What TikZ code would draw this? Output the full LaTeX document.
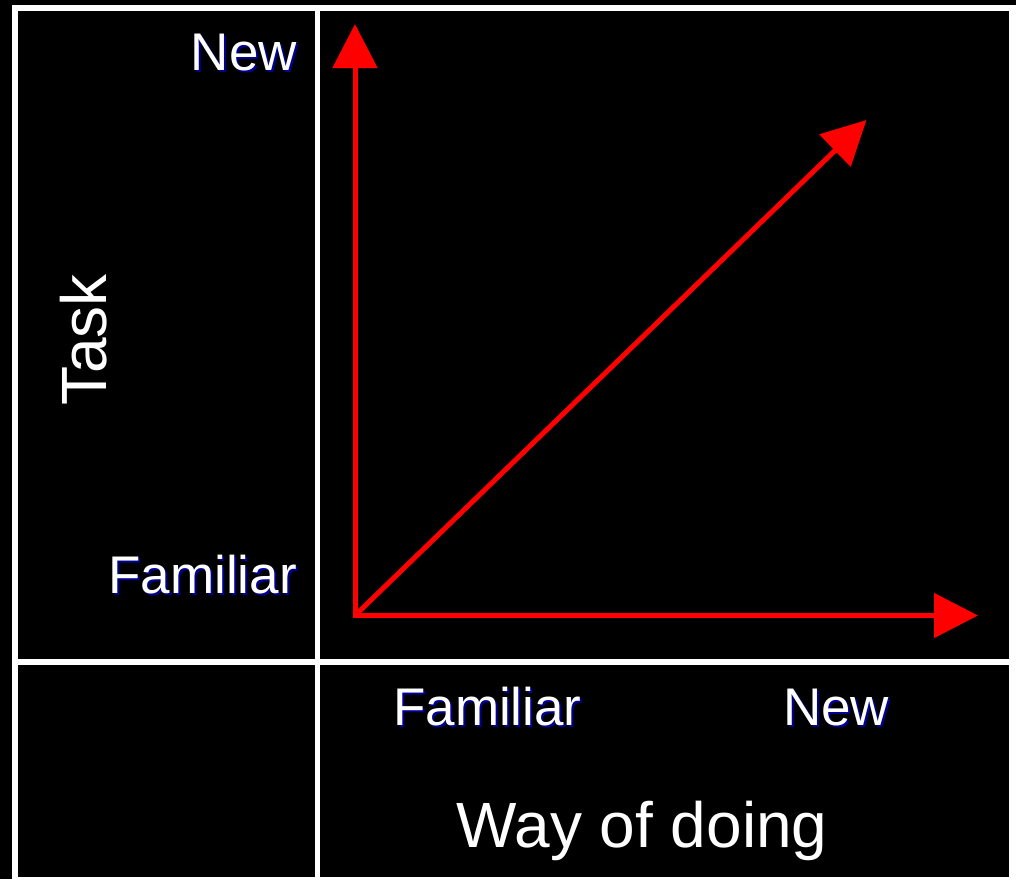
\documentclass[tikz,border=0pt]{standalone}
\usepackage{fontspec}
\setmainfont{Liberation Sans}
\usetikzlibrary{arrows.meta}
\definecolor{shadowblue}{RGB}{0,0,150}
\definecolor{arrowred}{RGB}{255,0,0}
\tikzset{
  cell/.style={fill=black},
  redarrow/.style={draw=arrowred, line width=5pt, line cap=rect, -{Triangle[length=44pt,width=44pt]}},
  lbl/.style={text=white, inner sep=0pt, font=\fontsize{53}{60}\selectfont},
  lblshadow/.style={text=shadowblue, inner sep=0pt, font=\fontsize{53}{60}\selectfont},
  title/.style={text=white, inner sep=0pt, font=\fontsize{64}{72}\selectfont}
}
\begin{document}
\begin{tikzpicture}[x=1pt,y=-1pt]
\useasboundingbox (0,0) rectangle (1016,879);
\fill[black] (0,0) rectangle (1016,879);
\fill[white] (12,5) rectangle (1016,879);
\fill[cell] (18,11) rectangle (315,659);
\fill[cell] (320,11) rectangle (1009,659);
\fill[cell] (18,665) rectangle (315,877);
\fill[cell] (320,665) rectangle (1009,877);

\coordinate (O) at (355,615.5);
\coordinate (up) at (355,24);
\coordinate (right) at (978,615.5);
\coordinate (diag) at (866.5,120);
\draw[redarrow] (O) -- (up);
\draw[redarrow] (O) -- (right);
\draw[redarrow, line cap=butt] (O) -- (diag);

% shadowed labels
\node[lblshadow, anchor=base east] (newTs) at (299,72) {New};
\node[lbl, anchor=base east] (newT) at (297,70) {New};
\node[lblshadow, anchor=base east] (famLs) at (299,595) {Familiar};
\node[lbl, anchor=base east] (famL) at (297,593) {Familiar};
\node[lblshadow, anchor=base west] (famBs) at (395,727) {Familiar};
\node[lbl, anchor=base west] (famB) at (393,725) {Familiar};
\node[lblshadow, anchor=base west] (newBs) at (785,727) {New};
\node[lbl, anchor=base west] (newB) at (783,725) {New};

\node[title, anchor=base] (way) at (642,847) {Way of doing};
\node[title, anchor=base, rotate=90] (task) at (106,340) {Task};
\end{tikzpicture}
\end{document}
